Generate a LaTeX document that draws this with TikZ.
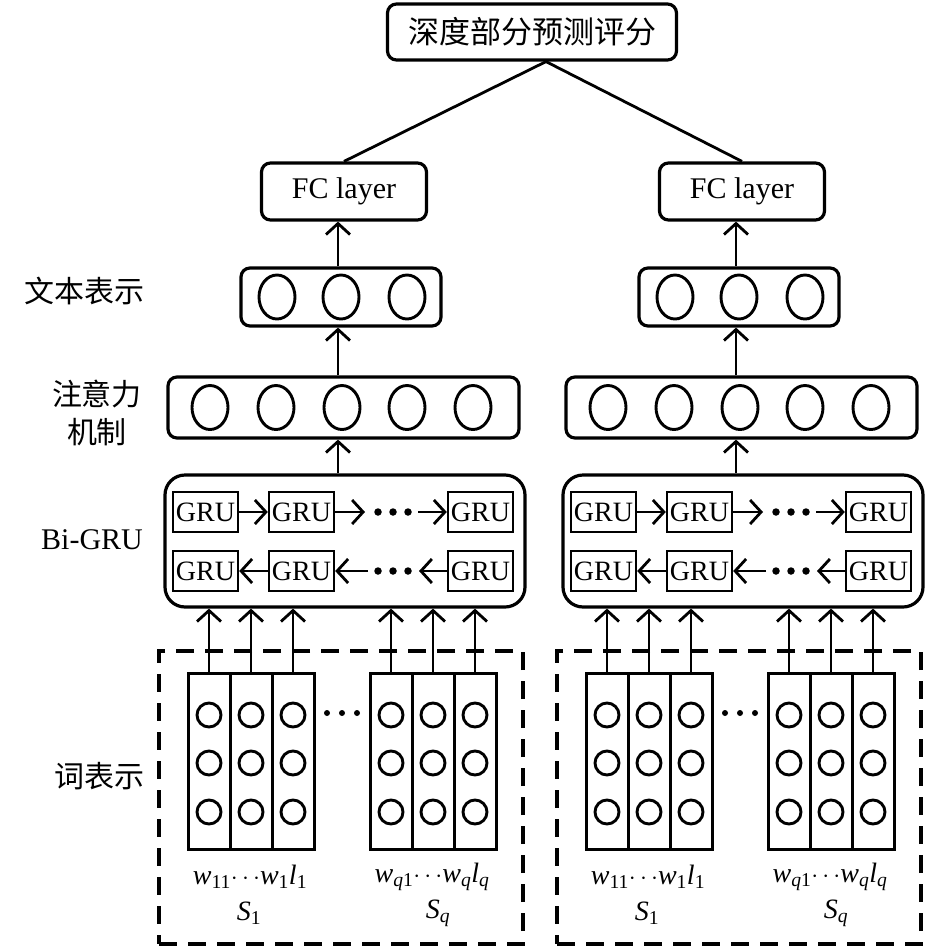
\documentclass[tikz,border=0pt]{standalone}
\usepackage{fontspec}
\setmainfont{Liberation Serif}
\newfontfamily\cjk{Noto Sans CJK SC}
\usetikzlibrary{arrows.meta,shapes.geometric}
\begin{document}
\begin{tikzpicture}[x=1pt,y=-1pt,
  font=\fontsize{30}{36}\selectfont,
  rbox/.style={draw,line width=3.2pt,rounded corners=9pt,inner sep=0pt},
  grubox/.style={draw,line width=2.4pt,minimum width=65pt,minimum height=40pt,inner sep=0pt,font=\fontsize{28}{30}\selectfont},
  ell/.style={draw,ellipse,line width=2.9pt,minimum width=36pt,minimum height=44pt,inner sep=0pt},
  colbox/.style={draw,line width=3pt,minimum width=42pt,minimum height=176pt,inner sep=0pt},
  wc/.style={draw,circle,line width=2.9pt,minimum size=24pt,inner sep=0pt},
  dbox/.style={draw,line width=3.6pt,dash pattern=on 18pt off 11pt,inner sep=0pt},
  arr/.style={line width=2.8pt,-{Straight Barb[length=11pt,width=24pt]}},
  conn/.style={line width=2.8pt},
  lbl/.style={font=\cjk\fontsize{30}{38}\selectfont,inner sep=0pt,align=center},
  wlab/.style={font=\fontsize{28}{32}\selectfont,inner sep=0pt},
  dot/.style={circle,fill,inner sep=0pt,minimum size=7.5pt},
]
\useasboundingbox (0,0) rectangle (945,951);

% top box
\node[rbox,minimum width=289pt,minimum height=56pt,font=\cjk\fontsize{31}{36}\selectfont] (top) at (532,32) {深度部分预测评分};
\coordinate (apex) at ([xshift=14pt]top.south);

% left labels
\node[lbl,anchor=east] (lab1) at (145,291) {文本表示};
\node[lbl] (lab2) at (97,413) {注意力\\机制};
\node[inner sep=0pt] (lab3) at (92,540) {Bi-GRU};
\node[lbl,anchor=east] (lab4) at (145,776) {词表示};

\foreach \ox/\s in {0/L,398/R}{
  % FC layer
  \node[rbox,minimum width=165pt,minimum height=57pt] (fc\s) at (344+\ox,191.5) {FC layer};
  % text representation
  \node[rbox,minimum width=200pt,minimum height=58pt] (txt\s) at (341+\ox,297) {};
  \foreach \i/\cx in {1/277,2/341,3/407}
    \node[ell] (t\s\i) at (\cx+\ox,297) {};
  % attention
  \node[rbox,minimum width=351pt,minimum height=61pt] (att\s) at (343.5+\ox,407.5) {};
  \foreach \i/\cx in {1/210,2/276,3/342,4/407,5/473}
    \node[ell] (a\s\i) at (\cx+\ox,407.5) {};
  % Bi-GRU
  \node[rbox,rounded corners=20pt,minimum width=360pt,minimum height=132pt] (bg\s) at (345+\ox,541) {};
  \foreach \i/\cx in {1/205.5,2/301.5,3/480.5}{
    \node[grubox] (f\s\i) at (\cx+\ox,512) {GRU};
    \node[grubox] (b\s\i) at (\cx+\ox,571) {GRU};
  }
  \coordinate (ra\s) at (365+\ox,512);
  \coordinate (rb\s) at (418+\ox,512);
  \coordinate (qa\s) at (368+\ox,571);
  \coordinate (qb\s) at (419+\ox,571);
  \draw[arr] (f\s1.east) -- (f\s2.west);
  \draw[arr] (f\s2.east) -- (ra\s);
  \draw[arr] (rb\s) -- (f\s3.west);
  \draw[arr] (b\s2.west) -- (b\s1.east);
  \draw[arr] (qa\s) -- (b\s2.east);
  \draw[arr] (b\s3.west) -- (qb\s);
  \foreach \dx in {378,393,408}{
    \node[dot] (u\s\dx) at (\dx+\ox,512) {};
    \node[dot] (v\s\dx) at (\dx+\ox,571) {};
  }
  % vertical arrows
  \coordinate (ax\s) at (338+\ox,0);
  \draw[arr] (bg\s.north -| ax\s) -- (att\s.south -| ax\s);
  \draw[arr] (att\s.north -| ax\s) -- (txt\s.south -| ax\s);
  \draw[arr] (txt\s.north -| ax\s) -- (fc\s.south -| ax\s);
  % dashed region
  \node[dbox,minimum width=364pt,minimum height=293pt] (dash\s) at (341+\ox,797.5) {};
  % word blocks
  \foreach \blk/\bx in {1/188,2/370}{
    \foreach \j in {1,2,3}{
      \node[colbox] (c\s\blk\j) at (\bx+21+42*\j-42+\ox,761) {};
      \foreach \k/\cy in {1/715,2/763,3/812}
        \node[wc] (o\s\blk\j\k) at (\bx+21+42*\j-42+\ox,\cy) {};
      \draw[arr] (c\s\blk\j.north) -- (bg\s.south -| c\s\blk\j.north);
    }
  }
  \foreach \dx in {327,342,357}
    \node[dot,minimum size=6pt] (m\s\dx) at (\dx+\ox,713) {};
  % labels
  \node[wlab] (wa\s) at (250+\ox,877) {\textit{w}\textsubscript{11}$\cdots$\textit{w}\textsubscript{1}\textit{l}\textsubscript{1}};
  \node[wlab] (wb\s) at (432+\ox,877) {\textit{w}\textsubscript{\textit{q}1}$\cdots$\textit{w}\textsubscript{\textit{q}}\textit{l}\textsubscript{\textit{q}}};
  \node[wlab] (sa\s) at (249+\ox,913) {\textit{S}\textsubscript{1}};
  \node[wlab] (sb\s) at (438+\ox,913) {\textit{S}\textsubscript{\textit{q}}};
}

% top connectors
\draw[conn] (apex) -- (fcL.north);
\draw[conn] (apex) -- (fcR.north);
\end{tikzpicture}
\end{document}
